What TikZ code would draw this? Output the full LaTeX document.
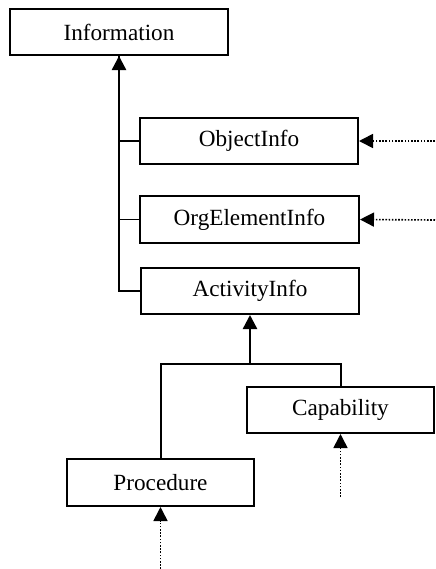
\documentclass[tikz,border=0pt]{standalone}
\usepackage{fontspec}
\setmainfont{Liberation Serif}
\usetikzlibrary{arrows.meta}

\begin{document}
\begin{tikzpicture}[x=0.5pt,y=-0.5pt,
  box/.style={draw,rectangle,line width=1pt,inner sep=0pt,font=\fontsize{11.6}{14}\selectfont},
  tip/.style={-{Triangle[length=7pt,width=7pt]}},
  dots/.style={dash pattern=on 0.8pt off 0.8pt,line width=0.8pt}]
\useasboundingbox (0,0) rectangle (435,569);
\node[box,minimum width=109pt,minimum height=23pt] (info) at (119,32) {Information};
\node[box,minimum width=109pt,minimum height=23pt] (obj) at (249,141) {ObjectInfo};
\node[box,minimum width=109.5pt,minimum height=23.5pt] (org) at (249.5,219.5) {OrgElementInfo};
\node[box,minimum width=109pt,minimum height=23pt] (act) at (250,291) {ActivityInfo};
\node[box,minimum width=93.5pt,minimum height=23pt] (cap) at (340.5,410) {Capability};
\node[box,minimum width=93.5pt,minimum height=23.5pt] (proc) at (160.5,482.5) {Procedure};
\coordinate (objsrc) at (435,141);
\coordinate (orgsrc) at (435,220);
\coordinate (capsrc) at (340.5,497);
\coordinate (procsrc) at (160.5,569);
\coordinate (joint) at (250,364);
\draw[tip,line width=1.2pt] (obj.west) -| (info.south);
\draw[line width=0.8pt] (org.west) -| (info.south);
\draw[line width=0.8pt] (act.west) -| (info.south);
\draw[line width=1pt] (proc.north) |- (joint) -| (cap.north);
\draw[tip,line width=1.2pt] (joint) -- (act.south);
\draw[tip,dots] (objsrc) -- (obj.east);
\draw[tip,dots] (orgsrc) -- (org.east);
\draw[tip,dots] (capsrc) -- (cap.south);
\draw[tip,dots] (procsrc) -- (proc.south);
\end{tikzpicture}
\end{document}
